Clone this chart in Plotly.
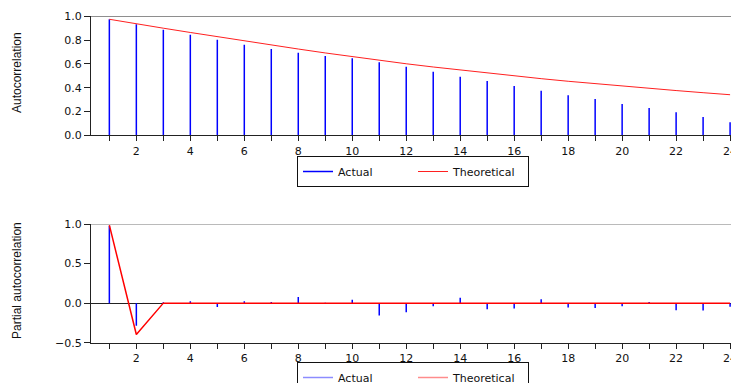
import plotly.graph_objects as go

lags = list(range(1, 25))
acf_actual = [0.975, 0.933, 0.887, 0.845, 0.803, 0.761, 0.725, 0.694, 0.666, 0.647,
              0.613, 0.577, 0.534, 0.492, 0.456, 0.414, 0.375, 0.336, 0.305, 0.263,
              0.229, 0.193, 0.154, 0.109]
acf_theoretical = [0.975, 0.935, 0.900, 0.864, 0.828, 0.793, 0.758, 0.725, 0.692, 0.660,
                   0.630, 0.601, 0.574, 0.548, 0.523, 0.499, 0.476, 0.454, 0.433, 0.413,
                   0.394, 0.376, 0.358, 0.341]
pacf_actual = [0.975, -0.287, 0.010, 0.025, -0.050, 0.025, 0.013, 0.076, 0.004, 0.042,
               -0.156, -0.114, -0.040, 0.068, -0.076, -0.068, 0.050, -0.055, -0.063, -0.038,
               0.013, -0.089, -0.093, -0.046]
pacf_theoretical = [0.985, -0.396] + [0.0] * 22
xtick_text = [str(l) if l % 2 == 0 else "" for l in lags]

# page has an 8px body margin; figure is sized so it ends at the window edge
OFF = 8
W, H = 739 - OFF, 383 - OFF
FONT = "DejaVu Sans"


def stems(xv, yv):
    xs, ys = [], []
    for a, b in zip(xv, yv):
        xs += [a, a, None]
        ys += [0, b, None]
    return xs, ys


fig = go.Figure()

sx, sy = stems(lags, acf_actual)
fig.add_trace(go.Scatter(x=sx, y=sy, mode="lines", name="Actual",
                         line=dict(color="#0000ff", width=1.5),
                         showlegend=True, legend="legend", xaxis="x", yaxis="y", hoverinfo="skip"))
fig.add_trace(go.Scatter(x=lags, y=acf_theoretical, mode="lines", name="Theoretical",
                         line=dict(color="#ff2020", width=1),
                         showlegend=True, legend="legend", xaxis="x", yaxis="y"))

px_, py_ = stems(lags, pacf_actual)
fig.add_trace(go.Scatter(x=px_, y=py_, mode="lines", line=dict(color="#0000ff", width=1.5),
                         showlegend=False, xaxis="x2", yaxis="y2", hoverinfo="skip"))
fig.add_trace(go.Scatter(x=lags, y=pacf_theoretical, mode="lines", line=dict(color="#ff0000", width=1.5),
                         showlegend=False, xaxis="x2", yaxis="y2"))
fig.add_trace(go.Scatter(x=[None], y=[None], mode="lines", name="Actual",
                         line=dict(color="#8c8cff", width=1.5), legend="legend2", xaxis="x2", yaxis="y2"))
fig.add_trace(go.Scatter(x=[None], y=[None], mode="lines", name="Theoretical",
                         line=dict(color="#ff8c8c", width=1.5), legend="legend2", xaxis="x2", yaxis="y2"))

L = 91 - OFF
pw = W - L


def py(p):
    return (H - (p - OFF)) / H


def pxp(p):
    return (p - OFF - L) / pw


xcommon = dict(range=[0.32, 24.33], tickvals=lags, ticktext=xtick_text, ticks="outside", ticklen=5,
               tickcolor="#222", showline=True, linecolor="#222", linewidth=1, showgrid=False,
               zeroline=False, tickfont=dict(family=FONT, size=11, color="#111"), domain=[0, 1],
               automargin=False)
ycommon = dict(ticks="outside", ticklen=6, tickcolor="#222", showline=True, linecolor="#222",
               linewidth=1, showgrid=False, tickfont=dict(family=FONT, size=11, color="#111"),
               automargin=False)

legcommon = dict(orientation="h", xanchor="left", x=pxp(297), yanchor="top",
                 bordercolor="#111", borderwidth=1, bgcolor="white",
                 font=dict(family=FONT, size=11, color="#111"), itemwidth=30,
                 entrywidth=70, entrywidthmode="pixels",
                 tracegroupgap=0)

fig.update_layout(
    width=W, height=H,
    margin=dict(l=L, r=0, t=0, b=0, autoexpand=False),
    paper_bgcolor="white", plot_bgcolor="white",
    xaxis=dict(**xcommon, anchor="y"),
    yaxis=dict(**ycommon, range=[0, 1.0], tickvals=[0, 0.2, 0.4, 0.6, 0.8, 1.0], tickformat=".1f",
               zeroline=False, domain=[py(135.3), py(16.3)], anchor="x"),
    xaxis2=dict(**xcommon, anchor="y2"),
    yaxis2=dict(**ycommon, range=[-0.5, 1.0], tickvals=[-0.5, 0, 0.5, 1.0], tickformat=".1f",
                zeroline=True, zerolinecolor="#222", zerolinewidth=1,
                domain=[py(342.7), py(224)], anchor="x2"),
    legend=dict(**legcommon, y=py(156)),
    legend2=dict(**legcommon, y=py(362)),
    shapes=[
        dict(type="line", xref="x domain", x0=0, x1=1, yref="y", y0=1.0, y1=1.0,
             line=dict(color="#444", width=1)),
        dict(type="line", xref="x2 domain", x0=0, x1=1, yref="y2", y0=1.0, y1=1.0,
             line=dict(color="#777", width=1)),
    ],
    annotations=[
        dict(text="Autocorrelation", textangle=-90, xref="paper", yref="paper",
             x=pxp(17), y=py(73), xanchor="center", yanchor="middle", showarrow=False,
             font=dict(family="Liberation Sans", size=12, color="#111")),
        dict(text="Partial autocorrelation", textangle=-90, xref="paper", yref="paper",
             x=pxp(17), y=py(281), xanchor="center", yanchor="middle", showarrow=False,
             font=dict(family="Liberation Sans", size=12, color="#111")),
    ],
)

fig.write_html("out.html")
